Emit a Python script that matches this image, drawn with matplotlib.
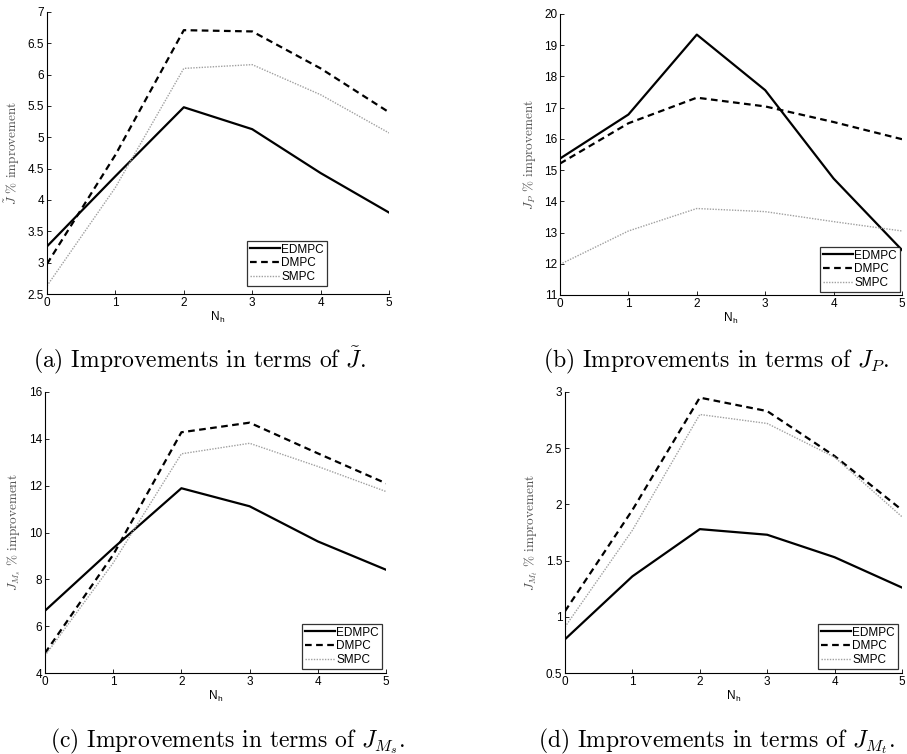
import matplotlib
matplotlib.use("Agg")
import matplotlib.pyplot as plt

plt.rcParams['mathtext.fontset'] = 'cm'
plt.rcParams['font.family'] = ['Liberation Sans', 'DejaVu Sans']

nh = [0, 1, 2, 3, 4, 5]
series_names = ["EDMPC", "DMPC", "SMPC"]

# (a) J tilde
a_edmpc = [3.26, 4.38, 5.48, 5.13, 4.43, 3.80]
a_dmpc = [2.98, 4.72, 6.71, 6.69, 6.10, 5.40]
a_smpc = [2.63, 4.20, 6.10, 6.16, 5.68, 5.07]
# (b) J_P
b_edmpc = [15.37, 16.78, 19.34, 17.56, 14.73, 12.44]
b_dmpc = [15.21, 16.50, 17.32, 17.04, 16.54, 15.99]
b_smpc = [11.98, 13.05, 13.77, 13.67, 13.35, 13.05]
# (c) J_Ms
c_edmpc = [6.66, 9.33, 11.89, 11.12, 9.62, 8.41]
c_dmpc = [4.85, 9.05, 14.28, 14.69, 13.38, 12.10]
c_smpc = [4.74, 8.70, 13.36, 13.81, 12.82, 11.75]
# (d) J_Mt
d_edmpc = [0.80, 1.36, 1.78, 1.73, 1.53, 1.26]
d_dmpc = [1.05, 1.95, 2.95, 2.83, 2.43, 1.95]
d_smpc = [0.91, 1.77, 2.80, 2.72, 2.42, 1.89]

panels = [
    dict(data=(a_edmpc, a_dmpc, a_smpc), ylim=(2.5, 7), yticks=[2.5, 3, 3.5, 4, 4.5, 5, 5.5, 6, 6.5, 7],
         yticklabels=["2.5", "3", "3.5", "4", "4.5", "5", "5.5", "6", "6.5", "7"],
         ylabel=r"$\tilde{J}$ % improvement", caption=r"(a) Improvements in terms of $\tilde{J}$.",
         rect_px=(47, 12, 389, 294), legend_px=(243, 232, 327, 286), cap_px=(199, 367)),
    dict(data=(b_edmpc, b_dmpc, b_smpc), ylim=(11, 20), yticks=list(range(11, 21)),
         yticklabels=[str(v) for v in range(11, 21)],
         ylabel=r"$J_P$ % improvement", caption=r"(b) Improvements in terms of $J_P$.",
         rect_px=(560, 14, 902, 295), legend_px=(818, 242, 900, 292), cap_px=(716, 367)),
    dict(data=(c_edmpc, c_dmpc, c_smpc), ylim=(4, 16), yticks=[4, 6, 8, 10, 12, 14, 16],
         yticklabels=["4", "6", "8", "10", "12", "14", "16"],
         ylabel=r"$J_{M_s}$ % improvement", caption=r"(c) Improvements in terms of $J_{M_s}$.",
         rect_px=(45, 392, 386, 673), legend_px=(302, 621, 382, 669), cap_px=(228, 747)),
    dict(data=(d_edmpc, d_dmpc, d_smpc), ylim=(0.5, 3), yticks=[0.5, 1, 1.5, 2, 2.5, 3],
         yticklabels=["0.5", "1", "1.5", "2", "2.5", "3"],
         ylabel=r"$J_{M_t}$ % improvement", caption=r"(d) Improvements in terms of $J_{M_t}$.",
         rect_px=(565, 392, 902, 673), legend_px=(818, 621, 898, 669), cap_px=(716, 747)),
]

W, H = 907, 754
fig = plt.figure(figsize=(W / 100, H / 100), dpi=100)

styles = [dict(color='black', lw=1.6, ls='-'),
          dict(color='black', lw=1.6, ls=(0, (3, 2))),
          dict(color='#a0a0a0', lw=1.0, ls=(0, (1, 1)))]

for p in panels:
    x0, y0, x1, y1 = p['rect_px']
    ax = fig.add_axes([x0 / W, 1 - y1 / H, (x1 - x0) / W, (y1 - y0) / H])
    handles = []
    for vals, name, st in zip(p['data'], series_names, styles):
        h, = ax.plot(nh, vals, label=name, **st)
        handles.append(h)
    ax.set_xlim(0, 5)
    ax.set_ylim(*p['ylim'])
    ax.set_xticks(nh)
    ax.set_xticklabels([str(v) for v in nh])
    ax.set_yticks(p['yticks'])
    ax.set_yticklabels(p['yticklabels'])
    for s in ['top', 'right']:
        ax.spines[s].set_visible(False)
    for s in ['left', 'bottom']:
        ax.spines[s].set_linewidth(0.8)
    ax.tick_params(direction='in', length=3, width=0.6, labelsize=8.5, pad=2)
    ax.set_xlabel(r"N$_\mathregular{h}$", fontsize=8.5, labelpad=1)
    ax.set_ylabel(p['ylabel'], fontsize=9.5, color='#555555', family='cmr10', labelpad=4)
    lx0, ly0, lx1, ly1 = p['legend_px']
    leg = ax.legend(handles=handles, loc='lower right',
                    bbox_to_anchor=(lx1 / W, 1 - ly1 / H), bbox_transform=fig.transFigure,
                    fontsize=8.5, frameon=True, fancybox=False, edgecolor='black',
                    handlelength=2.6, handletextpad=0.1, borderpad=0.25, labelspacing=0.15,
                    borderaxespad=0)
    leg.get_frame().set_linewidth(0.9)
    cx, cy = p['cap_px']
    fig.text(cx / W, 1 - cy / H, p['caption'], ha='center', va='baseline',
             fontsize=17, family='cmr10')

fig.savefig("out.png", dpi=100)
